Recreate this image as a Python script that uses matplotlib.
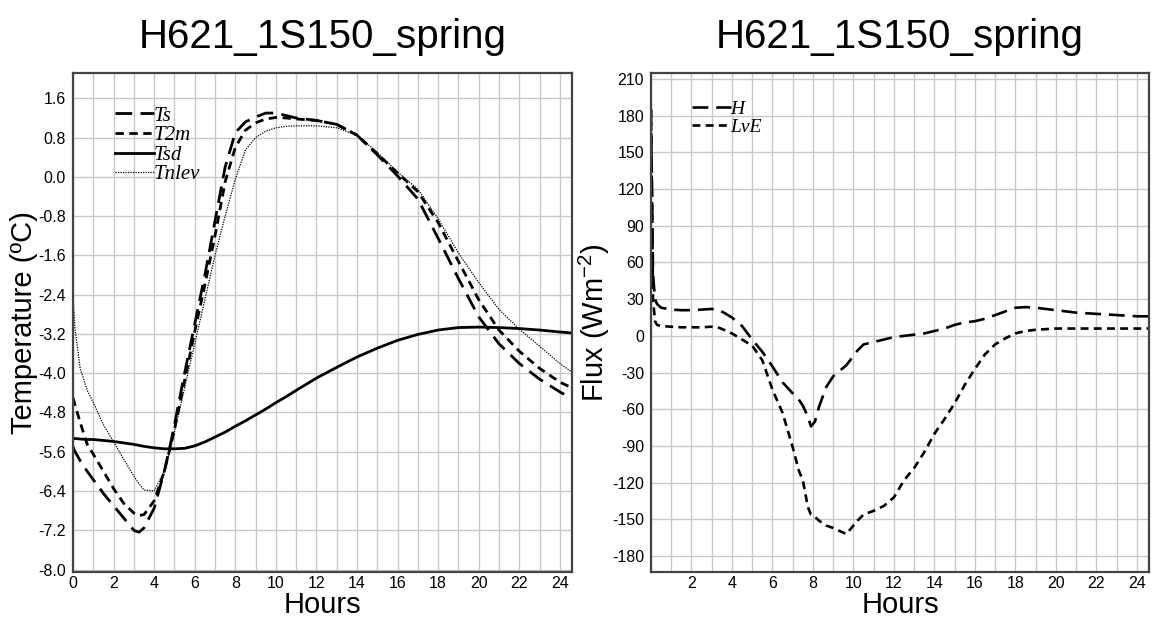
#!/usr/bin/env python3
"""
plot.py  -  diurnal cycle of temperatures and surface fluxes, H621_1S150_spring
"""

import matplotlib
matplotlib.use("Agg")
import matplotlib.pyplot as plt
from matplotlib.ticker import MultipleLocator, FixedLocator

# ------------------------------------------------------------------ #
#  Data
# ------------------------------------------------------------------ #
TITLE = "H621_1S150_spring"

hours_t = [0, 0.1, 0.35, 0.7, 1, 1.5, 2, 2.5, 3, 3.25, 3.5, 4, 4.5, 4.8, 5,
           5.5, 6, 6.5, 7, 7.5, 8, 8.5, 9, 9.5, 10, 10.5, 11, 12, 13, 14,
           15, 16, 17, 18, 19, 20, 21, 22, 23, 24, 24.6]

ts = [-5.5, -5.6, -5.78, -6.0, -6.17, -6.45, -6.7, -6.95, -7.2, -7.24,
      -7.15, -6.75, -6.0, -5.45, -5.05, -4.0, -3.0, -2.0, -0.9, 0.2, 0.9,
      1.12, 1.22, 1.3, 1.3, 1.25, 1.2, 1.15, 1.07, 0.85, 0.45, 0.02, -0.45,
      -1.25, -2.07, -2.85, -3.4, -3.8, -4.12, -4.38, -4.52]

t2m = [-4.5, -4.65, -5.0, -5.45, -5.65, -6.0, -6.35, -6.65, -6.85, -6.9,
       -6.88, -6.6, -6.0, -5.5, -5.15, -4.15, -3.15, -2.2, -1.2, -0.1, 0.6,
       0.95, 1.1, 1.18, 1.21, 1.2, 1.18, 1.15, 1.07, 0.85, 0.47, 0.08, -0.3,
       -0.93, -1.72, -2.5, -3.12, -3.55, -3.9, -4.18, -4.3]

tsd = [-5.33, -5.33, -5.34, -5.35, -5.35, -5.37, -5.39, -5.42, -5.45, -5.47,
       -5.49, -5.52, -5.54, -5.54, -5.54, -5.53, -5.48, -5.4, -5.3, -5.2,
       -5.08, -4.97, -4.85, -4.73, -4.6, -4.48, -4.35, -4.1, -3.88, -3.67,
       -3.49, -3.33, -3.21, -3.12, -3.07, -3.06, -3.07, -3.09, -3.12, -3.16,
       -3.18]

tnlev = [-2.45, -3.1, -3.9, -4.35, -4.6, -5.05, -5.4, -5.75, -6.1, -6.25,
         -6.38, -6.4, -6.0, -5.55, -5.2, -4.3, -3.4, -2.5, -1.6, -0.8, -0.05,
         0.55, 0.8, 0.93, 1.0, 1.03, 1.04, 1.04, 1.0, 0.85, 0.5, 0.1, -0.25,
         -0.85, -1.55, -2.15, -2.7, -3.1, -3.45, -3.8, -3.98]

hours_f = [0, 0.05, 0.1, 0.2, 0.3, 0.5, 1, 1.5, 2, 2.5, 3, 3.3, 3.6, 4, 4.5,
           5, 5.5, 6, 6.5, 7, 7.3, 7.5, 7.75, 7.9, 8.1, 8.3, 8.65, 9, 9.65,
           10.2, 10.5, 11, 11.5, 12, 12.5, 13, 13.5, 14, 14.5, 15, 15.5, 16,
           16.5, 17, 17.5, 18, 18.5, 19, 20, 21, 22, 23, 24, 24.6]

flux_h = [185, 120, 50, 30, 26, 23, 21.5, 21, 21, 21.5, 22, 21.5, 19, 15, 8,
          -3, -13, -25, -38, -47, -52, -57, -66, -74, -70, -58, -42, -33,
          -24, -12, -7, -5, -3, -1, 0, 1, 2, 4, 6, 9, 11, 12, 14, 17, 20, 23,
          23.5, 23, 21, 19, 18, 17, 16, 16]

flux_lve = [185, 110, 30, 12, 9, 8, 7.5, 7, 7, 7, 7.5, 7, 5, 2, -3, -8, -20,
            -44, -63, -91, -110, -118, -140, -146, -148, -151, -155, -157,
            -162, -151, -146, -143, -139, -132, -118, -108, -95, -80, -68,
            -55, -40, -27, -15, -7, -2, 2, 4, 5, 6, 6, 6, 6, 6, 6]

# ------------------------------------------------------------------ #
#  Styling
# ------------------------------------------------------------------ #
plt.rcParams["font.family"] = ["Liberation Sans", "DejaVu Sans"]
plt.rcParams["axes.unicode_minus"] = False
plt.rcParams["mathtext.fontset"] = "custom"
plt.rcParams["mathtext.rm"] = "Liberation Sans"
plt.rcParams["mathtext.it"] = "Liberation Sans:italic"

GRID_C = "#c8c8c8"
FRAME_C = "#444444"
LEG_FONT = {"family": ["Liberation Serif", "DejaVu Serif"],
            "style": "italic", "size": 15}
LEG_FONT_R = dict(LEG_FONT, size=14)


def style_axes(ax):
    for sp in ax.spines.values():
        sp.set_color(FRAME_C)
        sp.set_linewidth(1.6)
    ax.xaxis.set_minor_locator(MultipleLocator(1))
    ax.grid(True, which="both", axis="x", color=GRID_C, lw=1.0)
    ax.grid(True, which="major", axis="y", color=GRID_C, lw=1.0)
    ax.set_axisbelow(True)
    ax.tick_params(which="both", length=0, labelsize=11.5)
    ax.tick_params(axis="x", pad=3)
    ax.tick_params(axis="y", pad=5)
    ax.set_xlabel("Hours", fontsize=21, labelpad=0)
    ax.set_title(TITLE, fontsize=29, pad=18)


fig = plt.figure(figsize=(11.52, 6.24), dpi=100)
ax1 = fig.add_axes([0.0634, 0.0833, 0.4331, 0.800])
ax2 = fig.add_axes([0.5651, 0.0833, 0.4323, 0.800])

# ---------------- Left : temperatures ------------------------------------
ax1.plot(hours_t, ts, color="black", lw=2.0, dashes=(6, 3), label="Ts")
ax1.plot(hours_t, t2m, color="black", lw=2.0, dashes=(3, 2), label="T2m")
ax1.plot(hours_t, tsd, color="black", lw=2.0, label="Tsd")
ax1.plot(hours_t, tnlev, color="black", lw=0.9, dashes=(1, 1), label="Tnlev")

ax1.set_xlim(0, 24.6)
ax1.set_ylim(-8.05, 2.12)
ax1.xaxis.set_major_locator(MultipleLocator(2))
yt = [1.6 - 0.8 * i for i in range(13)]
ax1.yaxis.set_major_locator(FixedLocator(yt))
ax1.set_yticklabels([f"{v:.1f}" if abs(v) > 1e-9 else "0.0" for v in yt])
ax1.set_ylabel("Temperature (ºC)", fontsize=21, labelpad=0)
style_axes(ax1)
ax1.legend(loc="upper left", bbox_to_anchor=(0.068, 0.95), frameon=False,
           prop=LEG_FONT, handlelength=1.85, handletextpad=0.0,
           labelspacing=0.0, borderaxespad=0)

# ---------------- Right : fluxes -----------------------------------------
ax2.plot(hours_f, flux_h, color="black", lw=1.9, dashes=(6, 3), label="H")
ax2.plot(hours_f, flux_lve, color="black", lw=1.9, dashes=(3, 2), label="LvE")

ax2.set_xlim(0, 24.6)
ax2.set_ylim(-193, 215)
ax2.xaxis.set_major_locator(FixedLocator(list(range(2, 25, 2))))
ax2.yaxis.set_major_locator(MultipleLocator(30))
ax2.set_ylabel("Flux (Wm$^{\\mathrm{-2}}$)", fontsize=21, labelpad=0)
style_axes(ax2)
ax2.legend(loc="upper left", bbox_to_anchor=(0.066, 0.96), frameon=False,
           prop=LEG_FONT_R, handlelength=2.0, handletextpad=0.0,
           labelspacing=0.0, borderaxespad=0)

fig.savefig("out.png", dpi=100)
print("saved out.png")
